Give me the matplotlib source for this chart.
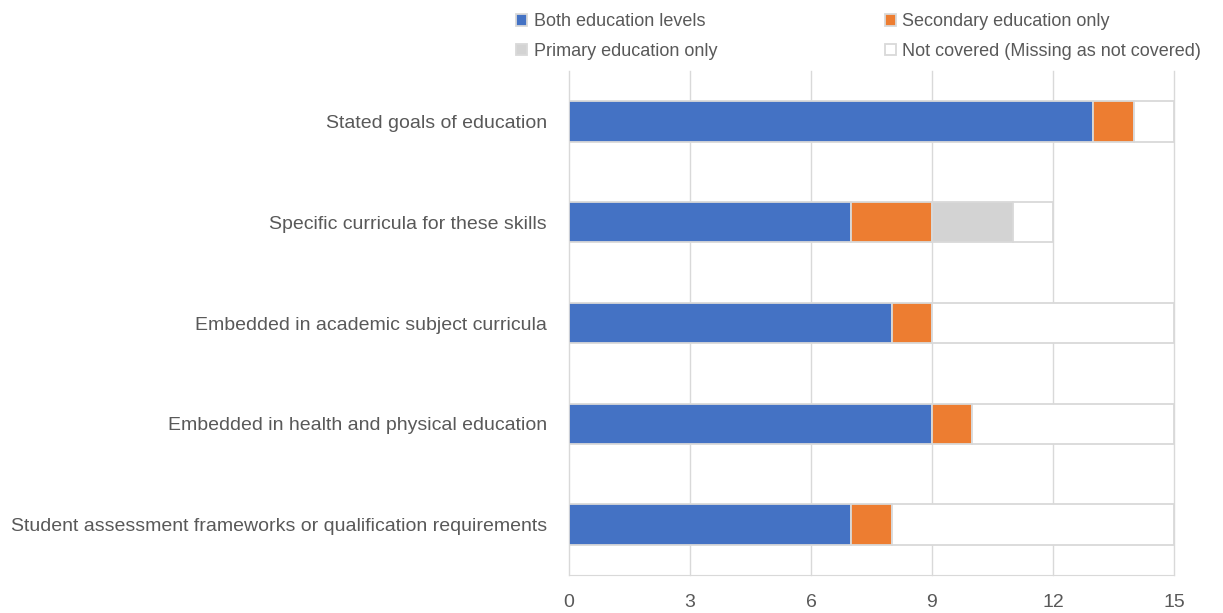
import matplotlib.pyplot as plt
import numpy as np

# categorias de cima para baixo
categorias = ["Stated goals of education",
              "Specific curricula for these skills",
              "Embedded in academic subject curricula",
              "Embedded in health and physical education",
              "Student assessment frameworks or qualification requirements"]

ambos = [13, 7, 8, 9, 7]
secundario = [1, 2, 1, 1, 1]
primario = [0, 2, 0, 0, 0]
nao_coberto = [1, 1, 6, 5, 7]

series = [("Both education levels", ambos, "#4472c4"),
          ("Secondary education only", secundario, "#ed7d31"),
          ("Primary education only", primario, "#d3d3d3"),
          ("Not covered (Missing as not covered)", nao_coberto, "#ffffff")]

plt.rcParams["font.family"] = ["Liberation Sans", "DejaVu Sans"]
cinza = "#595959"

fig = plt.figure(figsize=(12.23, 6.13), dpi=100)
ax = fig.add_axes([0.4653, 0.062, 0.4946, 0.822])

y = np.arange(len(categorias))
esquerda = np.zeros(len(categorias))
barras = {}
for nome, valores, cor in series:
    valores = np.array(valores, dtype=float)
    b = ax.barh(y, valores, left=esquerda, height=0.4, color=cor,
                edgecolor="#d9d9d9", linewidth=1.3, label=nome, zorder=3)
    barras[nome] = b
    esquerda += valores

ax.set_ylim(len(categorias) - 0.5, -0.5)
ax.set_xlim(0, 15)
ax.set_xticks([0, 3, 6, 9, 12, 15])
ax.set_yticks(y)
ax.set_yticklabels(categorias)
ax.grid(axis="x", color="#d9d9d9", linewidth=1, zorder=0)
for linha in ax.get_xgridlines():
    linha.set_clip_on(False)
for lado in ["top", "right", "left"]:
    ax.spines[lado].set_visible(False)
ax.spines["bottom"].set_color("#d9d9d9")
ax.tick_params(axis="both", length=0, labelsize=14, colors=cinza)
ax.tick_params(axis="x", pad=14)
ax.tick_params(axis="y", pad=16)

ordem = ["Both education levels", "Primary education only",
         "Secondary education only", "Not covered (Missing as not covered)"]
leg = fig.legend([barras[n] for n in ordem], ordem, ncol=2, loc="upper left",
                 bbox_to_anchor=(0.409, 1.005), frameon=False, fontsize=13,
                 handlelength=0.6, handleheight=0.6, handletextpad=0.35,
                 columnspacing=9.3, labelspacing=0.7)
for t in leg.get_texts():
    t.set_color(cinza)

fig.savefig("out.png", dpi=100)
